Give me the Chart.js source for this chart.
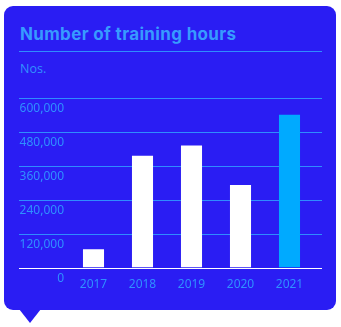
<!DOCTYPE html>
<html>
<head>
<meta charset="utf-8">
<script src="https://cdn.jsdelivr.net/npm/chart.js@4/dist/chart.umd.min.js"></script>
<style>
  html, body { margin: 0; padding: 0; background: #ffffff; }
  body { width: 341px; height: 327px; position: relative; overflow: hidden; }
  .card { position: absolute; left: 4px; top: 6px; width: 332px; height: 304px; background: #2a1df3; border-radius: 9px; }
  .pointer { position: absolute; left: 19px; top: 309px; width: 0; height: 0;
    border-left: 11px solid transparent; border-right: 11px solid transparent; border-top: 14px solid #2a1df3; }
  .title { position: absolute; left: 20px; top: 26px; font-family: Inter, sans-serif; font-weight: 700; font-size: 17px; letter-spacing: 0.35px; line-height: 16px; color: #379bff; white-space: nowrap; }
  .rule { position: absolute; left: 19px; top: 51px; width: 303px; height: 1px; background: #2f8cff; }
  .unit { position: absolute; left: 20px; top: 62px; font-family: "Open Sans", sans-serif; font-size: 12.5px; line-height: 14px; color: #3192ff; }
  canvas { position: absolute; left: 0; top: 0; }
</style>
</head>
<body>
<div class="card"></div>
<div class="pointer"></div>
<div class="title">Number of training hours</div>
<div class="rule"></div>
<div class="unit">Nos.</div>
<canvas id="c" width="341" height="327"></canvas>
<script>
const years = ['2017', '2018', '2019', '2020', '2021'];
const trainingHours = [65000, 396000, 432000, 292000, 541000];
const barColors = ['#ffffff', '#ffffff', '#ffffff', '#ffffff', '#00aaff'];
const yTicks = [0, 120000, 240000, 360000, 480000, 600000];

const textBlue = '#2f90ff';
const gridBlue = '#2f8cff';

const gridPlugin = {
  id: 'wideGrid',
  beforeDatasetsDraw(chart) {
    const y = chart.scales.y;
    const area = chart.chartArea;
    const ctx = chart.ctx;
    ctx.save();
    ctx.lineWidth = 1;
    y.ticks.forEach(t => {
      const py = Math.round(y.getPixelForValue(t.value)) + 0.5;
      ctx.strokeStyle = t.value === 0 ? '#ffffff' : gridBlue;
      ctx.beginPath();
      ctx.moveTo(area.left - 50, py);
      ctx.lineTo(area.right + 8, py);
      ctx.stroke();
    });
    ctx.restore();
  },
  afterDatasetsDraw(chart) {
    const y = chart.scales.y;
    const area = chart.chartArea;
    const ctx = chart.ctx;
    const py = Math.round(y.getPixelForValue(0)) + 0.5;
    ctx.save();
    ctx.strokeStyle = '#ffffff';
    ctx.lineWidth = 1;
    ctx.beginPath();
    ctx.moveTo(area.left - 50, py);
    ctx.lineTo(area.right + 8, py);
    ctx.stroke();
    ctx.restore();
  }
};

new Chart(document.getElementById('c'), {
  type: 'bar',
  data: {
    labels: years,
    datasets: [{
      data: trainingHours,
      backgroundColor: barColors,
      borderWidth: 0,
      barPercentage: 0.43,
      categoryPercentage: 1
    }]
  },
  options: {
    responsive: false,
    animation: false,
    events: [],
    layout: { padding: { left: 19, right: 27, top: 98, bottom: 30 } },
    plugins: { legend: { display: false }, tooltip: { enabled: false }, title: { display: false } },
    scales: {
      x: {
        grid: { display: false, drawTicks: false },
        border: { display: false },
        ticks: { color: textBlue, font: { family: 'Noto Sans', size: 12 }, padding: 10, maxRotation: 0 },
        afterFit(s) { s.height = 29.5; }
      },
      y: {
        min: 0,
        max: 600000,
        afterBuildTicks(s) { s.ticks = yTicks.map(v => ({ value: v })); },
        grid: { display: false, drawTicks: false },
        border: { display: false },
        ticks: {
          color: textBlue,
          font: { family: 'Noto Sans', size: 12 },
          padding: 5,
          labelOffset: 11,
          callback: v => v.toLocaleString('en-US')
        },
        afterFit(s) { s.width = 50; }
      }
    }
  },
  plugins: [gridPlugin]
});
</script>
</body>
</html>
